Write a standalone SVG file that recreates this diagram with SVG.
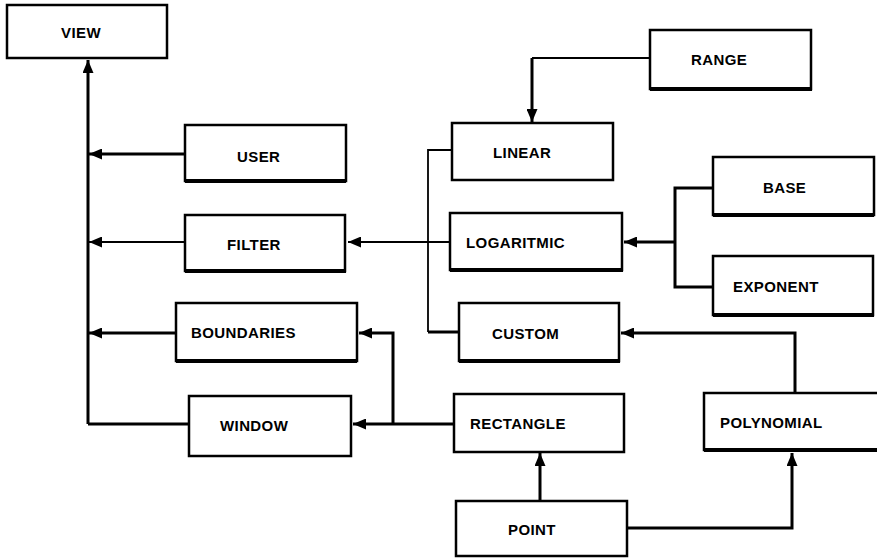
<svg xmlns="http://www.w3.org/2000/svg" width="877" height="559" viewBox="0 0 877 559">
<style>
.box{fill:#fff;stroke:#000;stroke-width:2.5}
.sh{stroke:#000;stroke-width:4;fill:none}
.lbl{font-family:"Liberation Sans",Arial,sans-serif;font-weight:bold;font-size:15px;letter-spacing:0.4px;fill:#000}
.c{fill:none;stroke:#000;stroke-width:3}
.t{fill:none;stroke:#000;stroke-width:1.8}
</style>
<defs>
<marker id="ah" viewBox="0 0 13 11" refX="13" refY="5.5" markerWidth="13" markerHeight="11" markerUnits="userSpaceOnUse" orient="auto">
<path d="M0,0 L13,5.5 L0,11 Z" fill="#000"/>
</marker>
</defs>
<rect width="877" height="559" fill="#fff"/>
<g id="connectors">
<path class="c" d="M88,424 V60" marker-end="url(#ah)"/>
<path class="c" d="M185,154 H89" marker-end="url(#ah)"/>
<path class="t" d="M185,242 H89" marker-end="url(#ah)"/>
<path class="c" d="M176,333 H89" marker-end="url(#ah)"/>
<path class="c" d="M189,424 H88"/>
<path class="c" d="M455,424 H353" marker-end="url(#ah)"/>
<path class="c" d="M393,424 V333 H359" marker-end="url(#ah)"/>
<path class="t" d="M650,58 H532"/>
<path class="c" d="M532,58 V122" marker-end="url(#ah)"/>
<path class="t" d="M452,150 H428 V332"/>
<path class="c" d="M428,332 H459"/>
<path class="t" d="M450,242 H348" marker-end="url(#ah)"/>
<path class="c" d="M713,188 H675 V287 H713"/>
<path class="c" d="M675,242 H624" marker-end="url(#ah)"/>
<path class="c" d="M795,393 V333 H621" marker-end="url(#ah)"/>
<path class="c" d="M540,501 V453" marker-end="url(#ah)"/>
<path class="c" d="M627,528 H792 V453" marker-end="url(#ah)"/>
</g>
<g id="view"><rect class="box" x="7" y="5" width="160" height="53"/><text class="lbl" x="61" y="38">VIEW</text></g>
<g id="user"><rect class="box" x="185" y="125" width="161" height="56"/><path class="sh" d="M185,181 H346"/><text class="lbl" x="237" y="162">USER</text></g>
<g id="filter"><rect class="box" x="185" y="215" width="160" height="56"/><path class="sh" d="M185,271 H346"/><text class="lbl" x="227" y="250">FILTER</text></g>
<g id="boundaries"><rect class="box" x="176" y="303" width="181" height="58"/><path class="sh" d="M176,361 H357"/><text class="lbl" x="191" y="338">BOUNDARIES</text></g>
<g id="window"><rect class="box" x="189" y="396" width="162" height="60"/><text class="lbl" x="220" y="431">WINDOW</text></g>
<g id="range"><rect class="box" x="650" y="30" width="161" height="59"/><path class="sh" d="M650,89 H812"/><text class="lbl" x="691" y="65">RANGE</text></g>
<g id="linear"><rect class="box" x="452" y="123" width="161" height="57"/><text class="lbl" x="493" y="158">LINEAR</text></g>
<g id="logaritmic"><rect class="box" x="450" y="213" width="172" height="57"/><path class="sh" d="M450,270 H623"/><text class="lbl" x="466" y="248">LOGARITMIC</text></g>
<g id="custom"><rect class="box" x="459" y="303" width="160" height="58"/><path class="sh" d="M459,361 H620"/><text class="lbl" x="492" y="339">CUSTOM</text></g>
<g id="base"><rect class="box" x="713" y="157" width="161" height="58"/><path class="sh" d="M713,215 H874"/><text class="lbl" x="763" y="193">BASE</text></g>
<g id="exponent"><rect class="box" x="713" y="256" width="160" height="59"/><path class="sh" d="M713,315 H874"/><text class="lbl" x="733" y="292">EXPONENT</text></g>
<g id="polynomial"><rect class="box" x="704" y="393" width="180" height="57"/><path class="sh" d="M704,450 H877"/><text class="lbl" x="720" y="428">POLYNOMIAL</text></g>
<g id="rectangle"><rect class="box" x="454" y="394" width="170" height="58"/><text class="lbl" x="470" y="429">RECTANGLE</text></g>
<g id="point"><rect class="box" x="456" y="501" width="171" height="55"/><text class="lbl" x="508" y="535">POINT</text></g>
</svg>
